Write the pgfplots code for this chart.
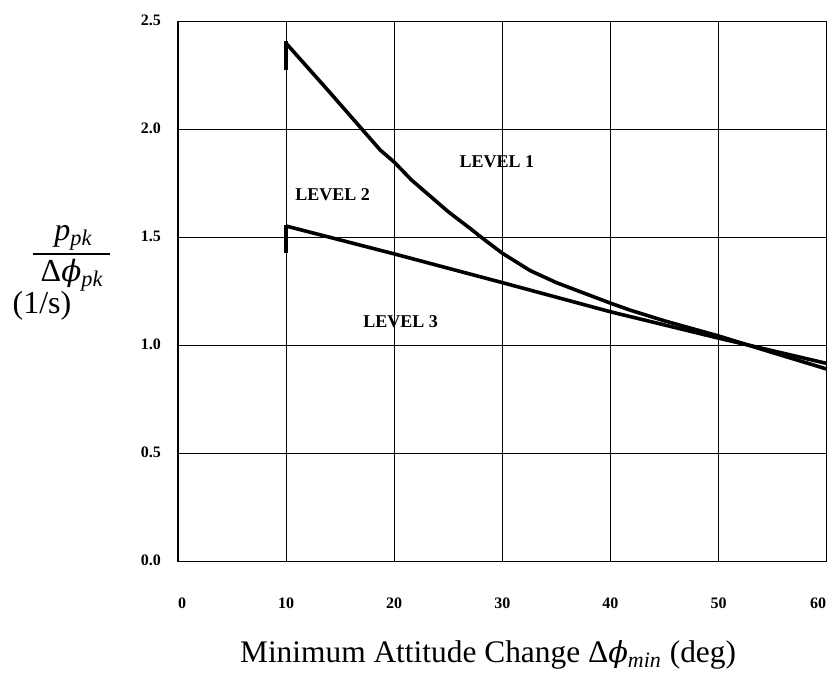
\documentclass[border=0pt]{standalone}
\usepackage{fontspec}
\setmainfont{Liberation Serif}
\newfontfamily\dvs[Scale=0.92]{DejaVu Serif}
\newcommand{\vphi}{{\dvs\itshape ϕ}}
\usepackage{pgfplots}
\pgfplotsset{compat=1.18}
\begin{document}
\begin{tikzpicture}
\useasboundingbox (-89pt,-58.65pt) rectangle (327.5pt,280.85pt);
\begin{axis}[
 scale only axis, width=324.35pt, height=270pt,
 xmin=0, xmax=60, ymin=0, ymax=2.5,
 xtick={0,10,20,30,40,50,60}, ytick={0,0.5,1,1.5,2,2.5},
 xticklabels={\hspace*{4pt}0,10,20,30,40,50,60\hspace*{8.7pt}},
 grid=major, major grid style={black, line width=0.6pt},
 axis line style={black, line width=0.7pt},
 tick style={draw=none},
 ticklabel style={font=\fontsize{8}{9}\selectfont\bfseries},
 /pgf/number format/assume math mode=true,
 y tick label style={/pgf/number format/fixed, /pgf/number format/fixed zerofill, /pgf/number format/precision=1, xshift=-5pt, yshift=0.8pt},
 x tick label style={yshift=-14.6pt},
 clip=false,
]
% Level 1 boundary
\addplot[black, line width=2.2pt] coordinates {(10,2.276) (10,2.41)};
\addplot[black, line width=1.8pt, line join=round] coordinates {
 (10,2.40) (14,2.175) (18.7,1.906) (20,1.850) (21.6,1.767) (25,1.620)
 (27.2,1.536) (28.1,1.50) (30,1.428) (32.6,1.347) (35,1.292) (37.2,1.250)
 (40,1.197) (41.8,1.165) (45,1.115) (50,1.045) (55,0.968) (60,0.892)};
% Level 2 boundary
\addplot[black, line width=2.2pt] coordinates {(10,1.43) (10,1.56)};
\addplot[black, line width=1.8pt, line join=round] coordinates {
 (10,1.554) (20,1.425) (30,1.292) (40,1.157) (50,1.035) (60,0.918)};
\node[font=\fontsize{9}{10}\selectfont\bfseries] at (axis cs:29.5,1.85) {LEVEL 1};
\node[font=\fontsize{9}{10}\selectfont\bfseries] at (axis cs:14.3,1.70) {LEVEL 2};
\node[font=\fontsize{9}{10}\selectfont\bfseries] at (axis cs:20.6,1.11) {LEVEL 3};
% axis labels
\node[font=\fontsize{15.7}{18}\selectfont] at (rel axis cs:0.478,-0.1726)
 {Minimum Attitude Change Δ\vphi\textsubscript{\textit{min}} (deg)};
\node[font=\fontsize{16}{18}\selectfont, inner sep=0pt] at (rel axis cs:-0.161,0.599)
 {\textit{p}\textsubscript{\textit{pk}}};
\draw[line width=0.7pt] (rel axis cs:-0.2235,0.570) -- (rel axis cs:-0.1048,0.570);
\node[font=\fontsize{16}{18}\selectfont, inner sep=0pt] at (rel axis cs:-0.163,0.531)
 {Δ\vphi\textsubscript{\textit{pk}}};
\node[font=\fontsize{16}{18}\selectfont] at (rel axis cs:-0.2097,0.4740) {(1/s)};
\end{axis}
\end{tikzpicture}
\end{document}
